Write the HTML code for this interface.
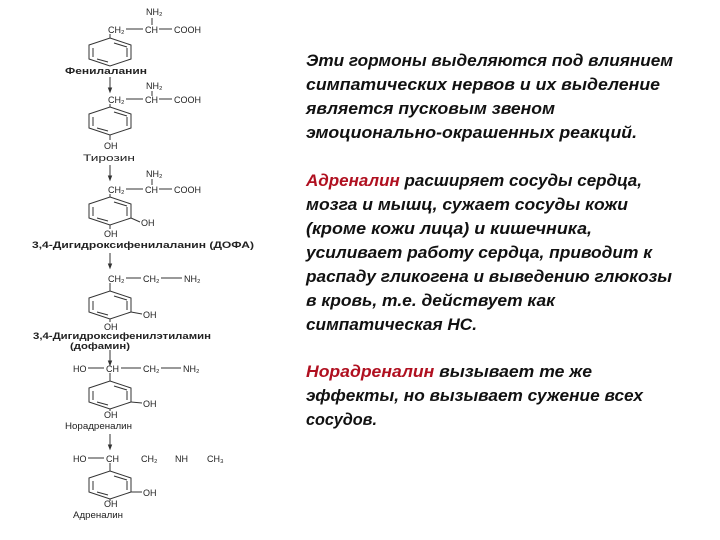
<!DOCTYPE html>
<html><head><meta charset="utf-8"><style>
html,body{margin:0;padding:0;background:#fff;}
svg{display:block;}
.t{font-family:"Liberation Sans",sans-serif;font-style:italic;font-weight:bold;font-size:17px;fill:#111;}
.r{fill:#b01020;}
.s{font-family:"Liberation Sans",sans-serif;font-size:9px;fill:#222;}
.l{font-family:"Liberation Sans",sans-serif;font-size:9px;fill:#222;font-weight:bold;}
line,polyline,polygon{stroke:#333;stroke-width:1;fill:none;}
</style></head><body>
<svg width="720" height="540" viewBox="0 0 720 540">
<defs>
<g id="ring">
<polygon points="0,-14 21,-7 21,7 0,14 -21,7 -21,-7"/>
<line x1="4" y1="-9" x2="17" y2="-5"/>
<line x1="17" y1="-4" x2="17" y2="5"/>
<line x1="-17" y1="-4" x2="-17" y2="5"/>
<line x1="-13" y1="7" x2="-2" y2="10"/>
</g>
<g id="arr"><line x1="0" y1="0" x2="0" y2="14"/><polygon points="-1.5,11 1.5,11 0,15" style="fill:#333"/></g>
</defs>

<!-- Mol 1 Phenylalanine -->
<text class="s" x="146" y="15">NH₂</text><line x1="152" y1="18" x2="152" y2="25"/>
<text class="s" x="108" y="33">CH₂</text><line x1="126" y1="29" x2="143" y2="29"/>
<text class="s" x="145" y="33">CH</text><line x1="159" y1="29" x2="172" y2="29"/>
<text class="s" x="174" y="33">COOH</text>
<line x1="110" y1="34" x2="110" y2="38"/>
<use href="#ring" x="110" y="52"/>
<text class="l" x="65" y="74" textLength="82" lengthAdjust="spacingAndGlyphs">Фенилаланин</text>
<use href="#arr" x="110" y="77"/>

<!-- Mol 2 Tyrosine -->
<text class="s" x="146" y="89">NH₂</text><line x1="152" y1="91" x2="152" y2="96"/>
<text class="s" x="108" y="103">CH₂</text><line x1="126" y1="99" x2="143" y2="99"/>
<text class="s" x="145" y="103">CH</text><line x1="159" y1="99" x2="172" y2="99"/>
<text class="s" x="174" y="103">COOH</text>
<line x1="110" y1="104" x2="110" y2="107"/>
<use href="#ring" x="110" y="121"/>
<line x1="110" y1="135" x2="110" y2="140"/>
<text class="s" x="104" y="149">OH</text>
<text class="s" x="83" y="161" textLength="52" lengthAdjust="spacingAndGlyphs">Тирозин</text>
<use href="#arr" x="110" y="165"/>

<!-- Mol 3 DOPA -->
<text class="s" x="146" y="177">NH₂</text><line x1="152" y1="179" x2="152" y2="185"/>
<text class="s" x="108" y="193">CH₂</text><line x1="126" y1="189" x2="143" y2="189"/>
<text class="s" x="145" y="193">CH</text><line x1="159" y1="189" x2="172" y2="189"/>
<text class="s" x="174" y="193">COOH</text>
<line x1="110" y1="194" x2="110" y2="197"/>
<use href="#ring" x="110" y="211"/>
<line x1="131" y1="218" x2="140" y2="222"/><text class="s" x="141" y="226">OH</text>
<line x1="110" y1="225" x2="110" y2="229"/>
<text class="s" x="104" y="237">OH</text>
<text class="l" x="32" y="248" textLength="222" lengthAdjust="spacingAndGlyphs">3,4-Дигидроксифенилаланин (ДОФА)</text>
<use href="#arr" x="110" y="253"/>

<!-- Mol 4 Dopamine -->
<text class="s" x="108" y="282">CH₂</text><line x1="126" y1="278" x2="141" y2="278"/>
<text class="s" x="143" y="282">CH₂</text><line x1="161" y1="278" x2="182" y2="278"/>
<text class="s" x="184" y="282">NH₂</text>
<line x1="110" y1="283" x2="110" y2="291"/>
<use href="#ring" x="110" y="305"/>
<line x1="131" y1="312" x2="142" y2="314"/><text class="s" x="143" y="318">OH</text>
<line x1="110" y1="319" x2="110" y2="322"/>
<text class="s" x="104" y="330">OH</text>
<text class="l" x="33" y="339" textLength="178" lengthAdjust="spacingAndGlyphs">3,4-Дигидроксифенилэтиламин</text>
<text class="l" x="70" y="349" textLength="60" lengthAdjust="spacingAndGlyphs">(дофамин)</text>
<use href="#arr" x="110" y="350"/>

<!-- Mol 5 Noradrenaline -->
<text class="s" x="73" y="372">HO</text><line x1="88" y1="368" x2="104" y2="368"/>
<text class="s" x="106" y="372">CH</text><line x1="121" y1="368" x2="141" y2="368"/>
<text class="s" x="143" y="372">CH₂</text><line x1="161" y1="368" x2="181" y2="368"/>
<text class="s" x="183" y="372">NH₂</text>
<line x1="110" y1="373" x2="110" y2="381"/>
<use href="#ring" x="110" y="395"/>
<line x1="131" y1="402" x2="142" y2="403"/><text class="s" x="143" y="407">OH</text>
<line x1="110" y1="409" x2="110" y2="411"/>
<text class="s" x="104" y="418">OH</text>
<text class="s" x="65" y="429" textLength="67" lengthAdjust="spacingAndGlyphs">Норадреналин</text>
<use href="#arr" x="110" y="434"/>

<!-- Mol 6 Adrenaline -->
<text class="s" x="73" y="462">HO</text><line x1="88" y1="458" x2="104" y2="458"/>
<text class="s" x="106" y="462">CH</text>
<text class="s" x="141" y="462">CH₂</text>
<text class="s" x="175" y="462">NH</text>
<text class="s" x="207" y="462">CH₃</text>
<line x1="110" y1="463" x2="110" y2="471"/>
<use href="#ring" x="110" y="485"/>
<line x1="131" y1="492" x2="142" y2="492"/><text class="s" x="143" y="496">OH</text>
<line x1="110" y1="499" x2="110" y2="501"/>
<text class="s" x="104" y="507">OH</text>
<text class="s" x="73" y="518" textLength="50" lengthAdjust="spacingAndGlyphs">Адреналин</text>

<!-- Right text -->
<text class="t" x="306" y="66" textLength="367" lengthAdjust="spacingAndGlyphs">Эти гормоны выделяются под влиянием</text>
<text class="t" x="306" y="90" textLength="354" lengthAdjust="spacingAndGlyphs">симпатических нервов и их выделение</text>
<text class="t" x="306" y="114" textLength="249" lengthAdjust="spacingAndGlyphs">является пусковым звеном</text>
<text class="t" x="306" y="138" textLength="331" lengthAdjust="spacingAndGlyphs">эмоционально-окрашенных реакций.</text>

<text class="t" x="306" y="186" textLength="336" lengthAdjust="spacingAndGlyphs"><tspan class="r">Адреналин</tspan> расширяет сосуды сердца,</text>
<text class="t" x="306" y="210" textLength="322" lengthAdjust="spacingAndGlyphs">мозга и мышц, сужает сосуды кожи</text>
<text class="t" x="306" y="234" textLength="286" lengthAdjust="spacingAndGlyphs">(кроме кожи лица) и кишечника,</text>
<text class="t" x="306" y="258" textLength="346" lengthAdjust="spacingAndGlyphs">усиливает работу сердца, приводит к</text>
<text class="t" x="306" y="282" textLength="366" lengthAdjust="spacingAndGlyphs">распаду гликогена и выведению глюкозы</text>
<text class="t" x="306" y="306" textLength="249" lengthAdjust="spacingAndGlyphs">в кровь, т.е. действует как</text>
<text class="t" x="306" y="330" textLength="171" lengthAdjust="spacingAndGlyphs">симпатическая НС.</text>

<text class="t" x="306" y="377" textLength="286" lengthAdjust="spacingAndGlyphs"><tspan class="r">Норадреналин</tspan> вызывает те же</text>
<text class="t" x="306" y="401" textLength="337" lengthAdjust="spacingAndGlyphs">эффекты, но вызывает сужение всех</text>
<text class="t" x="306" y="425" textLength="71" lengthAdjust="spacingAndGlyphs">сосудов.</text>
</svg>
</body></html>
